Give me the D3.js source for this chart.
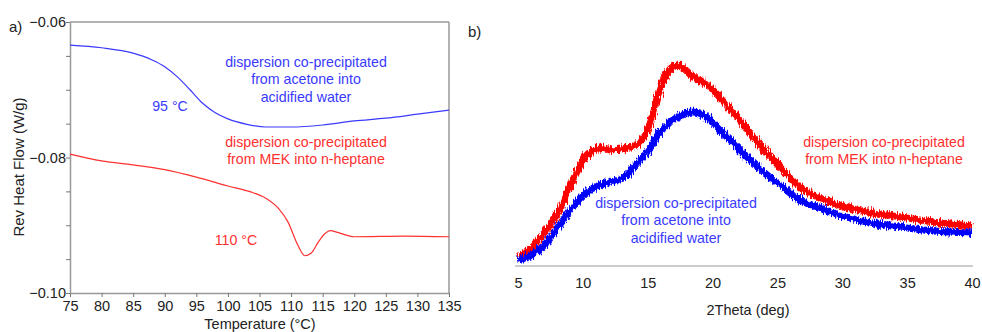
<!DOCTYPE html>
<html>
<head>
<meta charset="utf-8">
<script src="https://cdn.jsdelivr.net/npm/d3@7"></script>
<style>
  body { margin: 0; background: #fff; }
  text { font-family: "Liberation Sans", Arial, sans-serif; }
</style>
</head>
<body>
<div id="app"></div>
<script>
// panel a: DSC, reversing heat flow
const dscTemp = [75, 80, 85, 88, 90, 92, 94, 96, 98, 100, 103, 106, 110, 115, 120, 125, 130, 135];
const dscAcetone = [-0.0634, -0.0638, -0.0646, -0.0656, -0.0666, -0.0681, -0.0700, -0.0720, -0.0734, -0.0743, -0.0751, -0.0755, -0.0755, -0.0752, -0.0746, -0.0742, -0.0736, -0.0730];
const dscMekTemp = [75, 80, 85, 90, 95, 100, 104, 106, 108, 109.5, 111, 112.2, 113.2, 114.3, 115.3, 116.2, 117.5, 120, 128, 135];
const dscMek = [-0.0795, -0.0805, -0.0811, -0.0818, -0.0829, -0.0842, -0.0852, -0.0860, -0.0875, -0.0895, -0.0928, -0.0945, -0.0941, -0.0925, -0.0913, -0.0908, -0.0911, -0.0917, -0.0916, -0.0917];
const tempTicks = [75, 80, 85, 90, 95, 100, 105, 110, 115, 120, 125, 130, 135];
const flowTicks = [-0.10, -0.095, -0.09, -0.085, -0.08, -0.075, -0.07, -0.065, -0.06];
const flowLabels = [-0.10, -0.08, -0.06];

// panel b: XRD, arbitrary intensity
const xrdMekTheta = [5.0, 5.7, 6.9, 8.2, 9.0, 9.5, 10.3, 11.3, 12.1, 13.4, 14.4, 15.2, 15.9, 16.5, 17.3, 18.5, 19.8, 20.6, 22.9, 24.2, 25.4, 26.7, 28.1, 29.3, 31.9, 34.5, 37.0, 40.0];
const xrdMek = [10, 14, 31, 56, 79, 93, 111, 118, 116, 118, 124, 143, 176, 193, 201, 189, 179, 168, 133, 113, 96, 79, 69, 63, 54, 49, 44, 40];
const xrdAcetoneTheta = [5.0, 5.7, 6.9, 8.2, 9.5, 10.8, 12.1, 13.4, 13.9, 14.9, 15.9, 17.3, 18.5, 19.8, 20.3, 21.6, 22.9, 24.2, 25.4, 26.7, 28.1, 29.3, 31.9, 34.5, 37.0, 40.0];
const xrdAcetone = [6, 9, 19, 41, 63, 78, 84, 91, 99, 113, 133, 149, 154, 146, 139, 123, 106, 91, 79, 66, 59, 53, 44, 39, 35, 33];
const thetaTicks = [5, 10, 15, 20, 25, 30, 35, 40];

const blue = "#3a3aff", red = "#ff3030";

const svg = d3.select("#app").append("svg")
  .attr("width", 982).attr("height", 332);

const defs = svg.append("defs");
const f = defs.append("filter").attr("id", "rough")
  .attr("filterUnits", "userSpaceOnUse")
  .attr("x", 500).attr("y", 30).attr("width", 490).attr("height", 260);
f.append("feTurbulence").attr("type", "fractalNoise")
  .attr("baseFrequency", "1.4 0.12").attr("numOctaves", 2).attr("seed", 4).attr("result", "n");
f.append("feDisplacementMap").attr("in", "SourceGraphic").attr("in2", "n")
  .attr("scale", 8).attr("xChannelSelector", "R").attr("yChannelSelector", "G");

// ---------- panel a ----------
const xA = d3.scaleLinear().domain([75, 135]).range([70, 449]);
const yA = d3.scaleLinear().domain([-0.10, -0.06]).range([293, 22]);
const gA = svg.append("g");

gA.append("line").attr("x1", xA(75)).attr("x2", xA(135)).attr("y1", yA(-0.06)).attr("y2", yA(-0.06))
  .attr("stroke", "#999").attr("stroke-width", 1.5);
gA.append("line").attr("x1", xA(135)).attr("x2", xA(135)).attr("y1", yA(-0.06)).attr("y2", yA(-0.10))
  .attr("stroke", "#999").attr("stroke-width", 1.5);

const axA = gA.append("g").attr("transform", `translate(0,${yA(-0.10)})`)
  .call(d3.axisBottom(xA).tickValues(tempTicks).tickSize(4).tickSizeOuter(0).tickFormat(d3.format("d")));
const ayA = gA.append("g").attr("transform", `translate(${xA(75)},0)`)
  .call(d3.axisLeft(yA).tickValues(flowTicks).tickSize(4).tickSizeOuter(0)
    .tickFormat(d => flowLabels.some(v => Math.abs(v - d) < 1e-9) ? d3.format(".2f")(d) : ""));
[axA, ayA].forEach(a => {
  a.selectAll("path.domain").attr("stroke", "#999").attr("stroke-width", 1.5);
  a.selectAll(".tick line").attr("stroke", "#777");
  a.selectAll(".tick text").attr("fill", "#222").style("font-size", "14.5px")
    .style("font-family", "Liberation Sans, Arial, sans-serif");
});
axA.selectAll(".tick text").attr("y", 3).attr("dy", "1.0em");
ayA.selectAll(".tick text").attr("x", -4);

const lineA = d3.line().curve(d3.curveMonotoneX);
gA.append("path").attr("fill", "none").attr("stroke", blue).attr("stroke-width", 1.2)
  .attr("d", lineA(dscTemp.map((t, i) => [xA(t), yA(dscAcetone[i])])));
gA.append("path").attr("fill", "none").attr("stroke", red).attr("stroke-width", 1.2)
  .attr("d", lineA(dscMekTemp.map((t, i) => [xA(t), yA(dscMek[i])])));

function label(g, x, y, lines, color, size) {
  const t = g.append("text").attr("x", x).attr("y", y).attr("text-anchor", "middle")
    .attr("fill", color).style("font-size", size + "px");
  lines.forEach((s, i) => t.append("tspan").attr("x", x).attr("dy", i ? "1.22em" : 0).text(s));
}
label(gA, 306, 67, ["dispersion co-precipitated", "from acetone into", "acidified water"], blue, 14.2);
label(gA, 170, 111, ["95 °C"], blue, 14.2);
label(gA, 306, 147, ["dispersion co-precipitated", "from MEK into n-heptane"], red, 14.2);
label(gA, 236, 245, ["110 °C"], red, 14.2);

gA.append("text").attr("x", 9).attr("y", 32).attr("fill", "#222").style("font-size", "15px").text("a)");
gA.append("text").attr("transform", `translate(24,167) rotate(-90)`).attr("text-anchor", "middle")
  .attr("fill", "#222").style("font-size", "15px").text("Rev Heat Flow (W/g)");
gA.append("text").attr("x", 260).attr("y", 329).attr("text-anchor", "middle")
  .attr("fill", "#222").style("font-size", "14.5px").text("Temperature (°C)");

// ---------- panel b ----------
const xB = d3.scaleLinear().domain([5, 40]).range([518, 972]);
const yB = d3.scaleLinear().domain([0, 250]).range([266, 16]);
const gB = svg.append("g");

gB.append("line").attr("x1", 515).attr("x2", 973).attr("y1", yB(0)).attr("y2", yB(0))
  .attr("stroke", "#ccc").attr("stroke-width", 2);
const axB = gB.append("g").attr("transform", `translate(0,${yB(0)})`)
  .call(d3.axisBottom(xB).tickValues(thetaTicks).tickSize(0).tickFormat(d3.format("d")));
axB.select("path.domain").remove();
axB.selectAll(".tick text").attr("fill", "#222").attr("dy", "1.3em").style("font-size", "14.5px")
  .style("font-family", "Liberation Sans, Arial, sans-serif");

const lineB = d3.line().curve(d3.curveMonotoneX);
gB.append("path").attr("fill", "none").attr("stroke", "#ff0000").attr("stroke-width", 7)
  .attr("filter", "url(#rough)")
  .attr("d", lineB(xrdMekTheta.map((t, i) => [xB(t), yB(xrdMek[i])])));
gB.append("path").attr("fill", "none").attr("stroke", "#0000ff").attr("stroke-width", 7)
  .attr("filter", "url(#rough)")
  .attr("d", lineB(xrdAcetoneTheta.map((t, i) => [xB(t), yB(xrdAcetone[i])])));

label(gB, 884, 147, ["dispersion co-precipitated", "from MEK into n-heptane"], red, 14.2);
label(gB, 676, 208, ["dispersion co-precipitated", "from acetone into", "acidified water"], blue, 14.2);

gB.append("text").attr("x", 468).attr("y", 37).attr("fill", "#222").style("font-size", "15px").text("b)");
gB.append("text").attr("x", 748).attr("y", 315).attr("text-anchor", "middle")
  .attr("fill", "#222").style("font-size", "14.5px").text("2Theta (deg)");
</script>
</body>
</html>
